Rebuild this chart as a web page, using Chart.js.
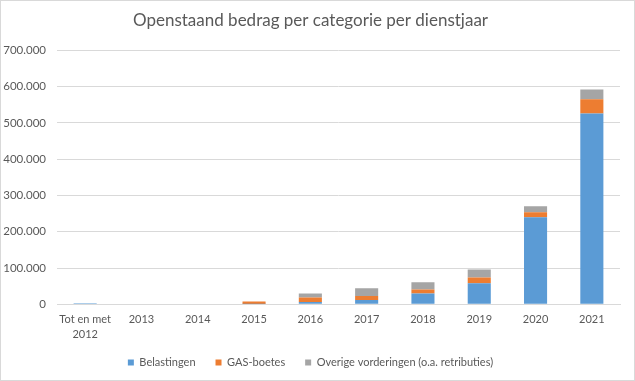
<!DOCTYPE html>
<html><head><meta charset="utf-8">
<script src="https://cdn.jsdelivr.net/npm/chart.js@4/dist/chart.umd.min.js"></script>
<style>
html,body{margin:0;padding:0;background:#fff;}
#wrap{position:absolute;left:0;top:0;width:635px;height:381px;box-sizing:border-box;border:1px solid #d9d9d9;}
canvas{display:block;}
</style></head><body>
<div id="wrap"><canvas id="c" width="633" height="379"></canvas></div>
<script>
const categories = [["Tot en met","2012"],"2013","2014","2015","2016","2017","2018","2019","2020","2021"];
const belastingen = [3000, 0, 0, 500, 6000, 12000, 30000, 58000, 240000, 526000];
const gasBoetes   = [0, 0, 0, 7000, 13000, 11000, 11000, 16000, 14000, 39000];
const overige     = [0, 0, 0, 500, 11000, 21000, 20000, 22000, 16000, 27000];
const seriesNames = ["Belastingen","GAS-boetes","Overige vorderingen (o.a. retributies)"];

const font = "Lato, 'Open Sans', sans-serif";
const txt = "#595959";

const legendTweak = {
  id: 'legendTweak',
  afterInit(chart) {
    const lg = chart.legend;
    if (!lg) return;
    const fit = lg.fit;
    lg.fit = function() { fit.call(this); this.height -= 15; };
  },
  afterLayout(chart) {
    const lg = chart.legend;
    if (!lg) return;
    lg.top -= 13;
  }
};

new Chart(document.getElementById('c'), {
  type: 'bar',
  data: {
    labels: categories,
    datasets: [
      {label: seriesNames[0], data: belastingen, backgroundColor: '#5B9BD5'},
      {label: seriesNames[1], data: gasBoetes, backgroundColor: '#ED7D31'},
      {label: seriesNames[2], data: overige, backgroundColor: '#A5A5A5'}
    ]
  },
  plugins: [legendTweak],
  options: {
    responsive: false,
    animation: false,
    layout: {padding: {left: 0, right: 14, top: 9, bottom: 4}},
    datasets: {bar: {categoryPercentage: 1.0, barPercentage: 0.41}},
    plugins: {
      title: {display: true, text: 'Openstaand bedrag per categorie per dienstjaar', color: txt,
              font: {family: font, size: 17, weight: 'normal'}, padding: {top: 0, bottom: 20}},
      legend: {position: 'bottom', labels: {boxWidth: 6, boxHeight: 6, color: txt,
              font: {family: font, size: 11}, padding: 20}},
      tooltip: {enabled: false}
    },
    scales: {
      x: {stacked: true, grid: {display: false, drawTicks: false}, border: {color: '#d9d9d9'},
          ticks: {color: txt, font: {family: font, size: 11, lineHeight: 1.35}, padding: 8, maxRotation: 0}},
      y: {stacked: true, min: 0, max: 700000,
          afterFit: s => { s.width = 56; },
          grid: {color: '#d9d9d9', drawTicks: false}, border: {display: false},
          ticks: {stepSize: 100000, color: txt, font: {family: font, size: 11.5}, padding: 11,
                  callback: v => v.toLocaleString('de-DE')}}
    }
  }
});
</script>
</body></html>
